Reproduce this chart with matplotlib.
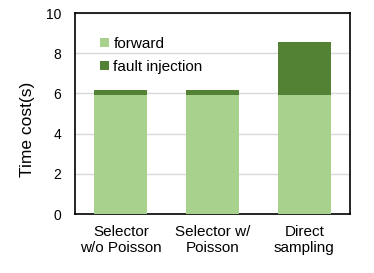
import matplotlib.pyplot as plt
import numpy as np

plt.rcParams['font.family'] = ['Liberation Sans', 'DejaVu Sans']

categories = ["Selector\nw/o Poisson", "Selector w/\nPoisson", "Direct\nsampling"]
forward = [5.92, 5.92, 5.92]
fault_injection = [0.25, 0.25, 2.63]

light = "#A9D18E"
dark = "#548235"

fig = plt.figure(figsize=(3.74, 2.73), dpi=100)
ax = fig.add_axes([0.2005, 0.216, 0.7355, 0.736])

x = np.arange(len(categories))
ax.bar(x, forward, width=0.58, color=light, label="forward", zorder=3)
ax.bar(x, fault_injection, width=0.58, bottom=forward, color=dark,
       label="fault injection", zorder=3)

ax.set_xlim(-0.5, 2.5)
ax.set_ylim(0, 10)
ax.set_yticks(range(0, 11, 2))
ax.set_xticks(x)
ax.set_xticklabels(categories, fontsize=11)
ax.tick_params(axis="y", labelsize=10, length=0, pad=10)
ax.tick_params(axis="x", length=0, pad=8)
ax.yaxis.grid(True, color="#D9D9D9", linewidth=1, zorder=0)
for s in ax.spines.values():
    s.set_color("black")
    s.set_linewidth(1.2)

ax.set_ylabel("Time cost(s)", fontsize=12.5)
ax.yaxis.set_label_coords(-0.145, 0.42)

ax.legend(loc="upper left", bbox_to_anchor=(0.07, 0.91), frameon=False,
          fontsize=11, handlelength=0.55, handleheight=0.55, handletextpad=0.3,
          labelspacing=0.55, borderaxespad=0)

fig.savefig("out.png", dpi=100)
